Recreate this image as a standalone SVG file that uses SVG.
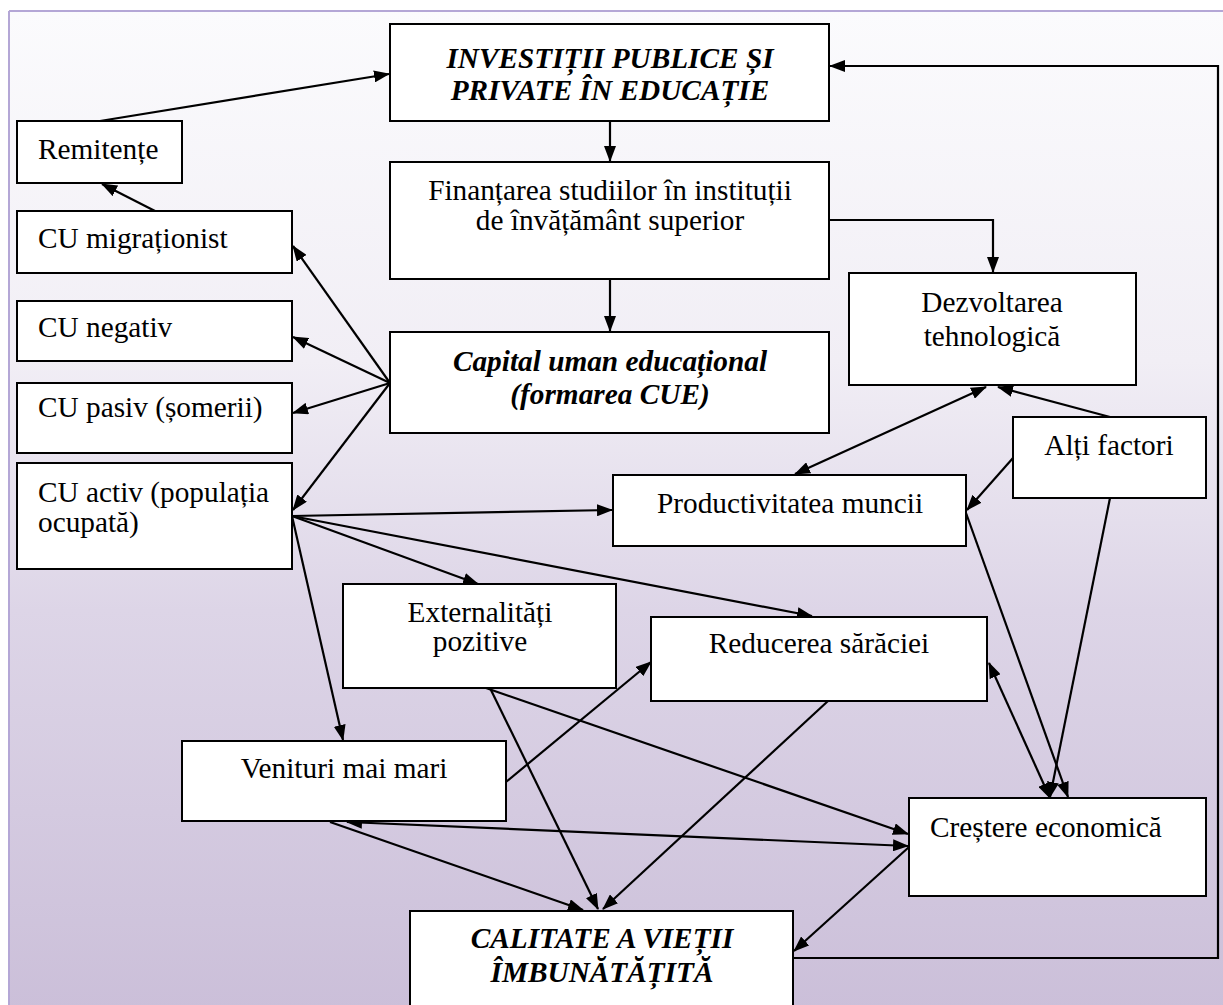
<svg xmlns="http://www.w3.org/2000/svg" width="1223" height="1005" viewBox="0 0 1223 1005">
<defs>
<linearGradient id="bg" x1="0" y1="0" x2="0" y2="1">
<stop offset="0" stop-color="#fbfbfd"/>
<stop offset="0.35" stop-color="#f1eef5"/>
<stop offset="0.6" stop-color="#ddd5e7"/>
<stop offset="1" stop-color="#cbbfd9"/>
</linearGradient>
<marker id="ah" viewBox="0 0 16 12" refX="15" refY="6" markerWidth="16" markerHeight="12" markerUnits="userSpaceOnUse" orient="auto-start-reverse">
<path d="M0,0 L16,6 L0,12 z" fill="#000"/>
</marker>
<style>
.box{fill:#fff;stroke:#000;stroke-width:2}
.t{font-family:"Liberation Serif","Times New Roman",Times,serif;font-size:29.3px;fill:#000}
.b{font-weight:bold;font-style:italic}
.c{text-anchor:middle}
.ln{fill:none;stroke:#000;stroke-width:2.2}
.a{marker-end:url(#ah)}
.d{marker-start:url(#ah);marker-end:url(#ah)}
</style>
</defs>
<rect x="0" y="0" width="1223" height="1005" fill="#fff"/>
<rect x="9" y="11" width="1220" height="1000" fill="url(#bg)"/>
<line x1="9" y1="11" x2="1223" y2="11" stroke="#b4a7d6" stroke-width="2"/>
<line x1="9" y1="11" x2="9" y2="1005" stroke="#b4a7d6" stroke-width="2"/>

<g id="connectors">
<line class="ln a" x1="100" y1="121" x2="389" y2="74"/>
<line class="ln a" x1="155" y1="211" x2="102" y2="184"/>
<line class="ln a" x1="390" y1="383" x2="293" y2="246"/>
<line class="ln a" x1="390" y1="383" x2="293" y2="337"/>
<line class="ln a" x1="390" y1="383" x2="293" y2="413"/>
<line class="ln a" x1="390" y1="383" x2="293" y2="510"/>
<line class="ln a" x1="610" y1="121" x2="610" y2="161"/>
<line class="ln a" x1="610" y1="279" x2="610" y2="331"/>
<polyline class="ln a" points="829,220 993,220 993,272"/>
<line class="ln a" x1="292" y1="516" x2="612" y2="510"/>
<line class="ln a" x1="292" y1="516" x2="478" y2="584"/>
<line class="ln a" x1="292" y1="516" x2="812" y2="616"/>
<line class="ln a" x1="292" y1="516" x2="343" y2="740"/>
<line class="ln d" x1="795" y1="474" x2="986" y2="387"/>
<line class="ln a" x1="1110" y1="417" x2="998" y2="387"/>
<line class="ln a" x1="1013" y1="458" x2="967" y2="510"/>
<line class="ln a" x1="1110" y1="498" x2="1050" y2="797"/>
<line class="ln a" x1="966" y1="513" x2="1068" y2="797"/>
<line class="ln d" x1="989" y1="663" x2="1050" y2="798"/>
<line class="ln a" x1="490" y1="688" x2="598" y2="909"/>
<line class="ln a" x1="486" y1="688" x2="908" y2="834"/>
<line class="ln a" x1="506" y1="782" x2="651" y2="662"/>
<line class="ln a" x1="828" y1="701" x2="603" y2="909"/>
<line class="ln d" x1="347" y1="822" x2="908" y2="846"/>
<line class="ln a" x1="330" y1="822" x2="583" y2="910"/>
<line class="ln a" x1="909" y1="847" x2="794" y2="951"/>
<polyline class="ln a" points="793,958 1218,958 1218,66 830,66"/>
</g>

<g id="investitii">
<rect class="box" x="390" y="24" width="439" height="97"/>
<text class="t b c" x="610" y="68">INVESTIȚII PUBLICE ȘI</text>
<text class="t b c" x="610" y="100">PRIVATE ÎN EDUCAȚIE</text>
</g>
<g id="remitente">
<rect class="box" x="17" y="121" width="165" height="62"/>
<text class="t" x="38" y="159">Remitențe</text>
</g>
<g id="cu-migrationist">
<rect class="box" x="17" y="211" width="275" height="62"/>
<text class="t" x="38" y="248">CU migraționist</text>
</g>
<g id="cu-negativ">
<rect class="box" x="17" y="301" width="275" height="60"/>
<text class="t" x="38" y="337">CU negativ</text>
</g>
<g id="cu-pasiv">
<rect class="box" x="17" y="383" width="275" height="70"/>
<text class="t" x="38" y="417">CU pasiv (șomerii)</text>
</g>
<g id="cu-activ">
<rect class="box" x="17" y="463" width="275" height="106"/>
<text class="t" x="38" y="502">CU activ (populația</text>
<text class="t" x="38" y="532">ocupată)</text>
</g>
<g id="finantarea">
<rect class="box" x="390" y="162" width="439" height="117"/>
<text class="t c" x="610" y="200">Finanțarea studiilor în instituții</text>
<text class="t c" x="610" y="230">de învățământ superior</text>
</g>
<g id="capital">
<rect class="box" x="390" y="332" width="439" height="101"/>
<text class="t b c" x="610" y="371">Capital uman educațional</text>
<text class="t b c" x="610" y="404">(formarea CUE)</text>
</g>
<g id="dezvoltarea">
<rect class="box" x="849" y="273" width="287" height="112"/>
<text class="t c" x="992" y="312">Dezvoltarea</text>
<text class="t c" x="992" y="346">tehnologică</text>
</g>
<g id="alti-factori">
<rect class="box" x="1013" y="417" width="193" height="81"/>
<text class="t c" x="1109" y="455">Alți factori</text>
</g>
<g id="productivitatea">
<rect class="box" x="613" y="475" width="353" height="71"/>
<text class="t c" x="790" y="513">Productivitatea muncii</text>
</g>
<g id="externalitati">
<rect class="box" x="343" y="584" width="273" height="104"/>
<text class="t c" x="480" y="622">Externalități</text>
<text class="t c" x="480" y="651">pozitive</text>
</g>
<g id="reducerea">
<rect class="box" x="651" y="617" width="336" height="84"/>
<text class="t c" x="819" y="653">Reducerea sărăciei</text>
</g>
<g id="venituri">
<rect class="box" x="182" y="741" width="324" height="80"/>
<text class="t c" x="344" y="778">Venituri mai mari</text>
</g>
<g id="crestere">
<rect class="box" x="909" y="798" width="297" height="98"/>
<text class="t" x="930" y="837">Creștere economică</text>
</g>
<g id="calitate">
<rect class="box" x="410" y="911" width="383" height="110"/>
<text class="t b c" x="602" y="948">CALITATE A VIEȚII</text>
<text class="t b c" x="602" y="982">ÎMBUNĂTĂȚITĂ</text>
</g>
</svg>
